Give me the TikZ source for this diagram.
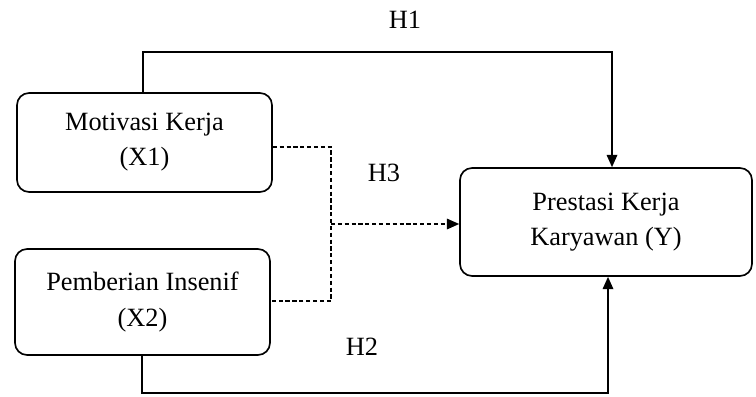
\documentclass[tikz,border=0pt]{standalone}
\usepackage{fontspec}
\setmainfont{Liberation Serif}
\usetikzlibrary{arrows.meta}
\tikzset{
	varbox/.style={draw, line width=0.95pt, rounded corners=0.24cm, align=center,
		font=\fontsize{15}{20}\selectfont},
	hlabel/.style={font=\fontsize{15}{20}\selectfont},
	link/.style={line width=0.95pt, -{Triangle[length=7pt,width=6pt]}},
	dashlink/.style={line width=0.85pt, dash pattern=on 2.4pt off 1.5pt}
}

\begin{document}
\begin{tikzpicture}[x=0.02cm,y=-0.02cm]
  \useasboundingbox (0,0) rectangle (756,396);
  % variables
  \node[varbox, minimum width=5.1cm, minimum height=1.98cm] (X1) at (144.5,142.5) {Motivasi Kerja\\(X1)};
  \node[varbox, minimum width=5.1cm, minimum height=2.12cm] (X2) at (142.5,302) {Pemberian Insenif\\(X2)};
  \node[varbox, minimum width=5.84cm, minimum height=2.16cm] (Y) at (606,222) {Prestasi Kerja\\Karyawan (Y)};
  % H1
  \coordinate (t1) at (143,52);
  \coordinate (t2) at (612,52);
  \draw[link] (X1.north -| t1) -- (t1) -- (t2) -- (t2 |- Y.north);
  % H2
  \coordinate (b1) at (142,393);
  \coordinate (b2) at (608,393);
  \draw[link] (X2.south -| b1) -- (b1) -- (b2) -- (b2 |- Y.south);
  % H3 (joint effect)
  \coordinate (d1) at (331,147);
  \coordinate (d2) at (331,301);
  \coordinate (m) at (331,224);
  \draw[dashlink] (X1.east |- d1) -- (d1) -- (d2) -- (X2.east |- d2);
  \draw[dashlink, -{Triangle[length=7pt,width=6pt]}] (m) -- (Y.west |- m);
  % labels
  \node[hlabel] (h1) at (405,20) {H1};
  \node[hlabel] (h3) at (384,173) {H3};
  \node[hlabel] (h2) at (362,347) {H2};
\end{tikzpicture}
\end{document}
